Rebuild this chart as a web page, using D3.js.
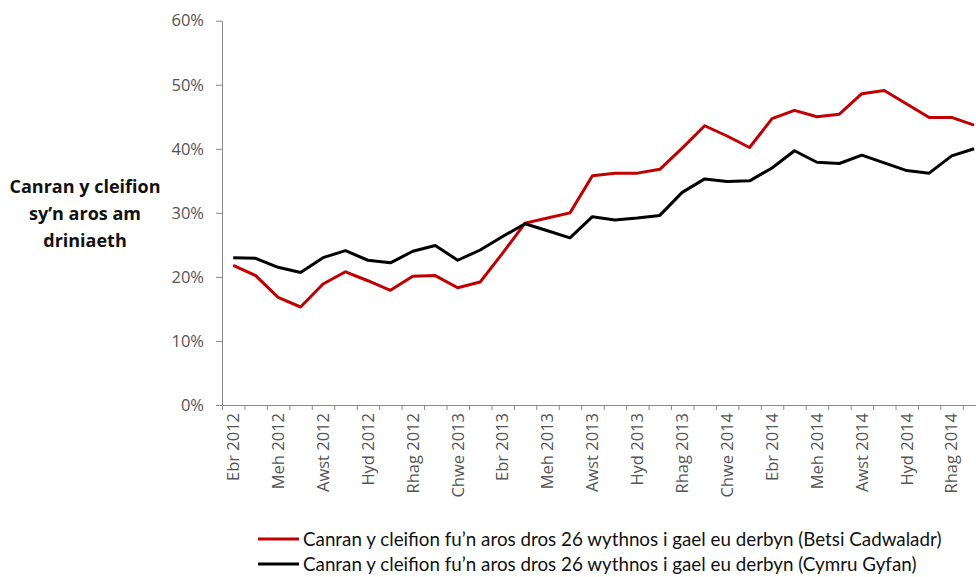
<!DOCTYPE html>
<html>
<head>
<meta charset="utf-8">
<script src="https://cdn.jsdelivr.net/npm/d3@7"></script>
<style>
  html, body { margin: 0; padding: 0; background: #fff; }
  svg { display: block; }
</style>
</head>
<body>
<svg id="chart" width="976" height="577"></svg>
<script>
// Months, April 2012 – January 2015 (Welsh abbreviations)
const months = [
  "Ebr 2012", "Mai 2012", "Meh 2012", "Gorff 2012", "Awst 2012", "Medi 2012",
  "Hyd 2012", "Tach 2012", "Rhag 2012", "Ion 2013", "Chwe 2013", "Maw 2013",
  "Ebr 2013", "Mai 2013", "Meh 2013", "Gorff 2013", "Awst 2013", "Medi 2013",
  "Hyd 2013", "Tach 2013", "Rhag 2013", "Ion 2014", "Chwe 2014", "Maw 2014",
  "Ebr 2014", "Mai 2014", "Meh 2014", "Gorff 2014", "Awst 2014", "Medi 2014",
  "Hyd 2014", "Tach 2014", "Rhag 2014", "Ion 2015"
];

// Percentage of patients waiting over 26 weeks – Betsi Cadwaladr
const betsiValues = [
  21.8, 20.2, 16.8, 15.3, 18.9, 20.8, 19.4, 17.9, 20.1, 20.2, 18.3, 19.2,
  23.7, 28.4, 29.2, 30.0, 35.8, 36.2, 36.2, 36.8, 40.1, 43.6, 42.0, 40.2,
  44.7, 46.0, 45.0, 45.4, 48.6, 49.1, 47.0, 44.9, 44.9, 43.7
];

// Percentage of patients waiting over 26 weeks – all Wales
const cymruValues = [
  23.0, 22.9, 21.5, 20.7, 23.0, 24.1, 22.6, 22.2, 24.0, 24.9, 22.6, 24.2,
  26.3, 28.3, 27.2, 26.1, 29.4, 28.9, 29.2, 29.6, 33.2, 35.3, 34.9, 35.0,
  37.0, 39.7, 37.9, 37.7, 39.0, 37.8, 36.6, 36.2, 38.9, 40.0
];

const yTicks = [0, 10, 20, 30, 40, 50, 60];

const seriesNames = [
  "Canran y cleifion fu\u2019n aros dros 26 wythnos i gael eu derbyn (Betsi Cadwaladr)",
  "Canran y cleifion fu\u2019n aros dros 26 wythnos i gael eu derbyn (Cymru Gyfan)"
];
const seriesColors = ["#c00000", "#000000"];

const yTitleLines = ["Canran y cleifion", "sy\u2019n aros am", "driniaeth"];

// ---- layout ----
const svg = d3.select("#chart");
const plotLeft = 222, plotTop = 20.7, plotBottom = 405;
const step = 22.45;
const plotRight = plotLeft + months.length * step;

const axisColor = "#898989";
const labelColor = "#555555";

const x = d3.scaleBand().domain(months).range([plotLeft, plotRight]).paddingInner(0).paddingOuter(0);
const xEdge = d3.scaleLinear().domain([0, months.length]).range([plotLeft, plotRight]);
const y = d3.scaleLinear().domain([0, 60]).range([plotBottom, plotTop]);
const cx = d => x(d) + x.bandwidth() / 2;

svg.append("rect").attr("width", 976).attr("height", 577).attr("fill", "#fff");

// y axis
const gy = svg.append("g")
  .attr("transform", `translate(${plotLeft},0)`)
  .call(d3.axisLeft(y).tickValues(yTicks).tickFormat(d => d + "%")
    .tickSize(6).tickSizeOuter(0).tickPadding(12));
gy.select(".domain").attr("stroke", axisColor);
gy.selectAll(".tick line").attr("stroke", axisColor);
gy.selectAll("text")
  .attr("fill", labelColor)
  .style("font-family", "'Open Sans', sans-serif")
  .style("font-size", "16.5px");

// x axis: tick marks between categories
const gxTicks = svg.append("g")
  .attr("transform", `translate(0,${plotBottom})`)
  .call(d3.axisBottom(xEdge).tickValues(d3.range(0, months.length + 1))
    .tickFormat("").tickSize(5).tickSizeOuter(0));
gxTicks.select(".domain").attr("stroke", axisColor);
gxTicks.selectAll(".tick line").attr("stroke", axisColor);

// x axis: rotated labels every second month
const gxLabels = svg.append("g")
  .attr("transform", `translate(0,${plotBottom})`)
  .call(d3.axisBottom(x).tickValues(months.filter((d, i) => i % 2 === 0))
    .tickSize(0).tickSizeOuter(0));
gxLabels.select(".domain").remove();
gxLabels.selectAll("text")
  .attr("fill", labelColor)
  .attr("transform", "rotate(-90)")
  .attr("x", -8)
  .attr("y", 0)
  .attr("dy", "0.35em")
  .style("text-anchor", "end")
  .style("font-family", "'Open Sans', sans-serif")
  .style("font-size", "16.5px");

// lines
const line = d3.line().x((d, i) => cx(months[i])).y(d => y(d));
[betsiValues, cymruValues].forEach((vals, k) => {
  svg.append("path")
    .datum(vals)
    .attr("fill", "none")
    .attr("stroke", seriesColors[k])
    .attr("stroke-width", 3)
    .attr("stroke-linejoin", "round")
    .attr("d", line);
});

// y axis title
const title = svg.append("text")
  .attr("text-anchor", "middle")
  .attr("fill", "#111")
  .style("font-family", "'Open Sans', sans-serif")
  .style("font-weight", "bold")
  .style("font-size", "18px");
yTitleLines.forEach((t, i) => {
  title.append("tspan").attr("x", 85).attr("y", 193 + i * 27).text(t);
});

// legend
const legend = svg.append("g");
seriesNames.forEach((name, i) => {
  const ly = 539 + i * 25;
  legend.append("line")
    .attr("x1", 258).attr("x2", 299).attr("y1", ly).attr("y2", ly)
    .attr("stroke", seriesColors[i]).attr("stroke-width", 3);
  legend.append("text")
    .attr("x", 303).attr("y", ly).attr("dy", "0.35em")
    .attr("fill", "#111")
    .style("font-family", "Lato, sans-serif")
    .style("font-size", "18.8px")
    .text(name);
});
</script>
</body>
</html>
